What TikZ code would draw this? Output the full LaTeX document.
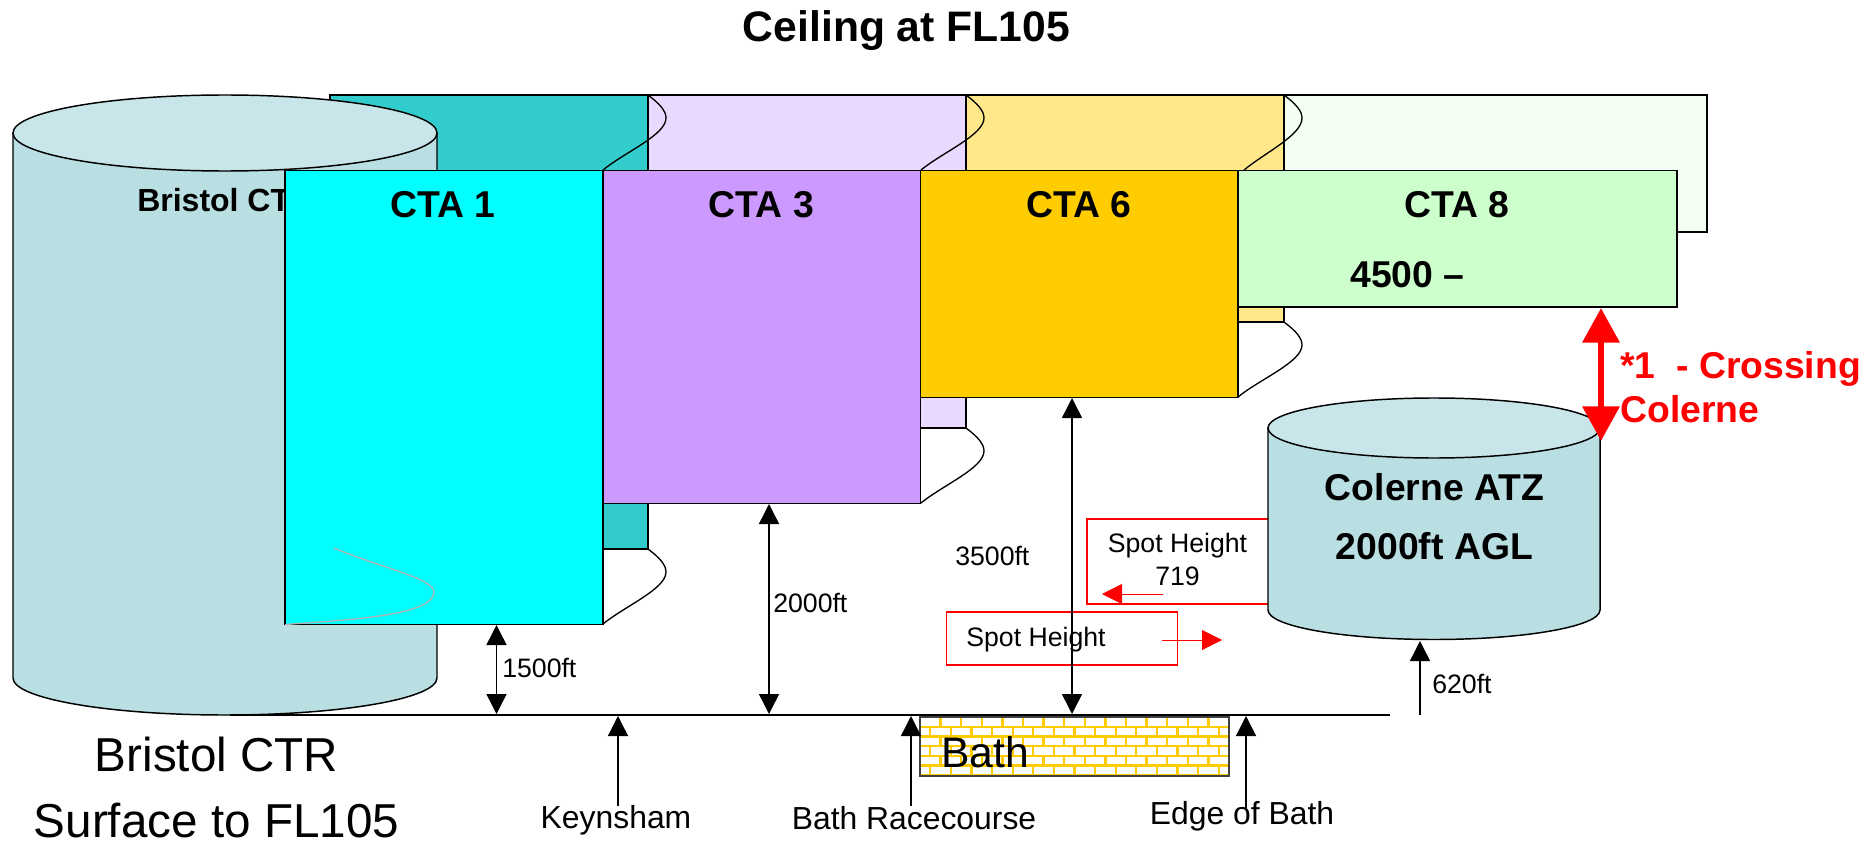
\documentclass[tikz,border=0pt]{standalone}
\usepackage{fontspec}
\setmainfont{Liberation Sans}
\usetikzlibrary{arrows.meta}
\definecolor{ctrbody}{HTML}{B9DFE2}
\definecolor{ctrtop}{HTML}{C8E6E9}
\definecolor{ctaone}{HTML}{00FFFF}
\definecolor{ctaoneback}{HTML}{33CCCC}
\definecolor{ctathree}{HTML}{CC99FF}
\definecolor{ctathreeback}{HTML}{EAD9FF}
\definecolor{ctasix}{HTML}{FFCC00}
\definecolor{ctasixback}{HTML}{FFE78A}
\definecolor{ctaeight}{HTML}{CCFFCC}
\definecolor{ctaeightback}{HTML}{F2FFF2}
\tikzset{
	box/.style={draw=black, line width=1.1pt},
	blab/.style={font=\fontsize{28}{33}\selectfont\bfseries, inner sep=0pt},
	hlab/.style={font=\fontsize{20}{24}\selectfont, inner sep=0pt},
	plab/.style={font=\fontsize{23.9}{28}\selectfont, inner sep=0pt},
	ctrlab/.style={font=\fontsize{35.7}{42}\selectfont, inner sep=0pt},
	redlab/.style={font=\fontsize{28}{33}\selectfont\bfseries, red, inner sep=0pt, anchor=west},
	dim/.style={line width=1.1pt, {Triangle[width=15pt,length=15pt]}-{Triangle[width=15pt,length=15pt]}},
	pin/.style={line width=1.1pt, -{Triangle[width=15pt,length=15pt]}},
	spot/.style={draw=red, line width=1.2pt},
	spotarrow/.style={red, line width=.7pt, -{Triangle[width=15pt,length=15pt]}},
}
\begin{document}
\begin{tikzpicture}[x=0.75pt, y=-0.75pt]
	\useasboundingbox (0,0) rectangle (1874,845);
	\node[font=\fontsize{32}{38}\selectfont\bfseries, inner sep=0pt] (title) at (906.5,31) {Ceiling at FL105};

	\filldraw[box, fill=ctaoneback] (330,95) rectangle (648,549);
	\filldraw[box, fill=ctathreeback] (648,95) rectangle (966,428);
	\filldraw[box, fill=ctasixback] (966,95) rectangle (1284,322);
	\filldraw[box, fill=ctaeightback] (1284,95) rectangle (1707,232);
	\foreach \bx/\by/\ex in {648/95/603, 966/95/921, 1284/95/1244, 648/549/603, 966/428/921, 1284/322/1238}{
		\draw[line width=1pt] (\bx,\by) .. controls (\bx+12,\by+9) and (\bx+18,\by+16) .. (\bx+18,\by+23)
			.. controls (\bx+18,\by+40) and (\ex+22,\by+57) .. (\ex,\by+75);
	}

	\filldraw[box, fill=ctrbody] (13,133) -- (13,678) arc[start angle=180, end angle=0, x radius=212, y radius=37] -- (437,133) -- cycle;
	\filldraw[box, fill=ctrtop] (225,133) ellipse[x radius=212, y radius=38];
	\node[font=\fontsize{24}{28}\selectfont\bfseries, inner sep=0pt, anchor=west] (bristoltop) at (137,200) {Bristol CT};

	\filldraw[box, fill=ctaone] (285,170.5) rectangle (603,624.5);
	\filldraw[box, fill=ctathree] (603,170.5) rectangle (920.5,503.5);
	\filldraw[box, fill=ctasix] (920.5,170.5) rectangle (1238,397.5);
	\filldraw[box, fill=ctaeight] (1238,170.5) rectangle (1677,307);
	\draw[gray!60, line width=1pt] (334,548) .. controls (375,566) and (434,578) .. (434,592) .. controls (434,616) and (345,620) .. (285,624.5);
	\node[blab] (cta1) at (443,204.5) {CTA 1};
	\node[blab] (cta3) at (761.5,204.5) {CTA 3};
	\node[blab] (cta6) at (1079,204.5) {CTA 6};
	\node[blab] (cta8) at (1457,204.5) {CTA 8};
	\node[blab, anchor=west] (alt8) at (1350,275) {4500 --};

	\draw[spot] (1087,519) rectangle (1280,604);
	\draw[spot] (946.5,612) rectangle (1177.5,665);
	\filldraw[box, fill=ctrbody] (1268,428) -- (1268,610) arc[start angle=180, end angle=0, x radius=166, y radius=29.5] -- (1600,428) -- cycle;
	\filldraw[box, fill=ctrtop] (1434,428) ellipse[x radius=166, y radius=30];
	\node[blab] (colerne) at (1434.5,487) {Colerne ATZ};
	\node[blab] (colernealt) at (1434.5,546) {2000ft AGL};

	\begin{scope}
		\clip (920,717) rectangle (1229,776);
		\fill[white] (920,717) rectangle (1229,776);
		\foreach \row in {0,...,6}{
			\draw[ctasix, line width=1.7pt] (920,717+9.7*\row) -- (1229,717+9.7*\row);
			\pgfmathsetmacro{\shift}{mod(\row,2)*10.3}
			\foreach \col in {-1,...,15}{
				\draw[ctasix, line width=1.7pt] (920+\shift+20.6*\col,717+9.7*\row) -- ++(0,9.7);
			}
		}
	\end{scope}
	\draw[draw=black!75, line width=1.1pt] (920,717) rectangle (1229,776);
	\node[font=\fontsize{32}{38}\selectfont, inner sep=0pt, anchor=west] (bath) at (941,752) {Bath};

	\coordinate (gleft) at (230,715);
	\coordinate (gright) at (1390,715);
	\draw[line width=1.3pt] (gleft) -- (gright);

	\coordinate (a1top) at (496.5,625);
	\coordinate (a1bot) at (496.5,714);
	\coordinate (a3top) at (769,504);
	\coordinate (a3bot) at (769,714);
	\coordinate (a6top) at (1072,398);
	\coordinate (a6bot) at (1072,714);
	\draw[dim] (a1top) -- (a1bot);
	\draw[dim] (a3top) -- (a3bot);
	\draw[dim] (a6top) -- (a6bot);
	\node[hlab, anchor=west] (h1500) at (502,667.5) {1500ft};
	\node[hlab, anchor=west] (h2000) at (773,603) {2000ft};
	\node[hlab, anchor=west] (h3500) at (955,555.5) {3500ft};
	\coordinate (a620top) at (1420,641);
	\coordinate (a620bot) at (1420,715);
	\draw[pin] (a620bot) -- (a620top);
	\node[hlab, anchor=west] (h620) at (1432,684) {620ft};

	\node[plab] (keynsham) at (616,820) {Keynsham};
	\node[plab] (race) at (914,818.5) {Bath Racecourse};
	\node[plab] (edge) at (1242,816) {Edge of Bath};
	\coordinate (ak) at (618,716);
	\coordinate (akb) at (618,806);
	\coordinate (ar) at (911,716);
	\coordinate (arb) at (911,806);
	\coordinate (ae) at (1246,716);
	\coordinate (aeb) at (1246,808);
	\draw[pin] (akb) -- (ak);
	\draw[pin] (arb) -- (ar);
	\draw[pin] (aeb) -- (ae);

	\node[hlab] (spot1) at (1177.5,546) {Spot Height};
	\node[hlab] (spot719) at (1177.5,576) {719};
	\node[hlab] (spot2) at (1036,640) {Spot Height};
	\coordinate (sa1) at (1163,594);
	\coordinate (sa1e) at (1102,594);
	\coordinate (sa2) at (1162,640);
	\coordinate (sa2e) at (1222,640);
	\draw[spotarrow] (sa1) -- (sa1e);
	\draw[spotarrow] (sa2) -- (sa2e);

	\coordinate (cross1) at (1601,308);
	\coordinate (cross2) at (1601,441);
	\draw[red, line width=5pt, {Triangle[width=27pt,length=26pt]}-{Triangle[width=27pt,length=26pt]}] (cross1) -- (cross2);
	\node[redlab] (crossing) at (1620,369) {*1\ \ - Crossing};
	\node[redlab] (crossing2) at (1620,409) {Colerne};

	\node[ctrlab] (ctr) at (216.5,754) {Bristol CTR};
	\node[ctrlab] (ctr2) at (216.5,821) {Surface to FL105};
\end{tikzpicture}
\end{document}
